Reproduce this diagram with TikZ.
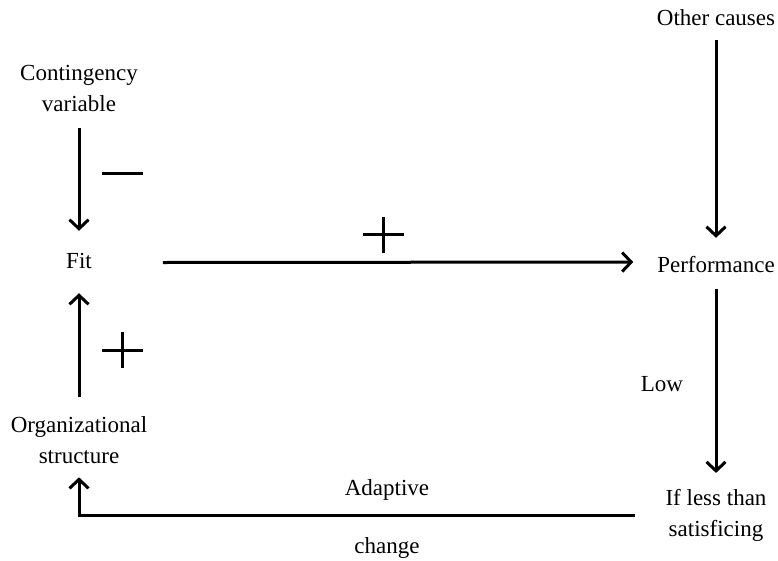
\documentclass[tikz,border=0pt]{standalone}
\usepackage{fontspec}
\setmainfont{Liberation Serif}
\usetikzlibrary{arrows.meta}
\begin{document}
\begin{tikzpicture}[x=1pt,y=1pt,
  txt/.style={inner sep=0pt,outer sep=0pt,align=center,font={\fontsize{23}{31}\selectfont}},
  arr/.style={line width=3pt,-{Straight Barb[length=9pt,width=19pt,line width=3pt]}},
  sign/.style={line width=3pt},
  plussign/.pic={\draw[sign] (-20.5,0) -- (20.5,0) (0,-18) -- (0,18);},
  minussign/.pic={\draw[sign] (-20.5,0) -- (20.5,0);}
]
\useasboundingbox (0,0) rectangle (778,-560);
% nodes
\node[txt] (cont) at (79,-88) {Contingency\\variable};
\node[txt,anchor=base] (fit) at (79,-268) {Fit};
\node[txt] (org) at (79,-439.7) {Organizational\\structure};
\node[txt,anchor=base] (oc) at (716,-25) {Other causes};
\node[txt,anchor=base] (perf) at (716,-272) {Performance};
\node[txt] (iflt) at (716,-515) {If less than\\satisficing};
\node[txt,anchor=base] (low) at (662,-391) {Low};
\node[txt,anchor=base] (adapt) at (387,-495) {Adaptive};
\node[txt,anchor=base] (chg) at (387,-553) {change};
% connectors
\draw[arr] ([yshift=-17pt]cont.south) -- ([yshift=22pt]fit.north);
\draw[arr] ([yshift=19pt]org.north) -- ([yshift=-25pt]fit.south);
\draw[arr] ([xshift=71pt,yshift=-2pt]fit.east) -- ([xshift=-24pt,yshift=2pt]perf.west);
\draw[arr] ([yshift=-15pt]oc.south) -- ([yshift=18pt]perf.north);
\draw[arr] ([yshift=-17pt]perf.south) -- ([yshift=16pt]iflt.north);
\draw[arr] ([xshift=-31pt]iflt.west) -| ([yshift=-14pt]org.south);
% signs
\pic at (122.5,-173) {minussign};
\pic at (122.5,-350) {plussign};
\pic at (383.5,-234.5) {plussign};
\end{tikzpicture}
\end{document}
